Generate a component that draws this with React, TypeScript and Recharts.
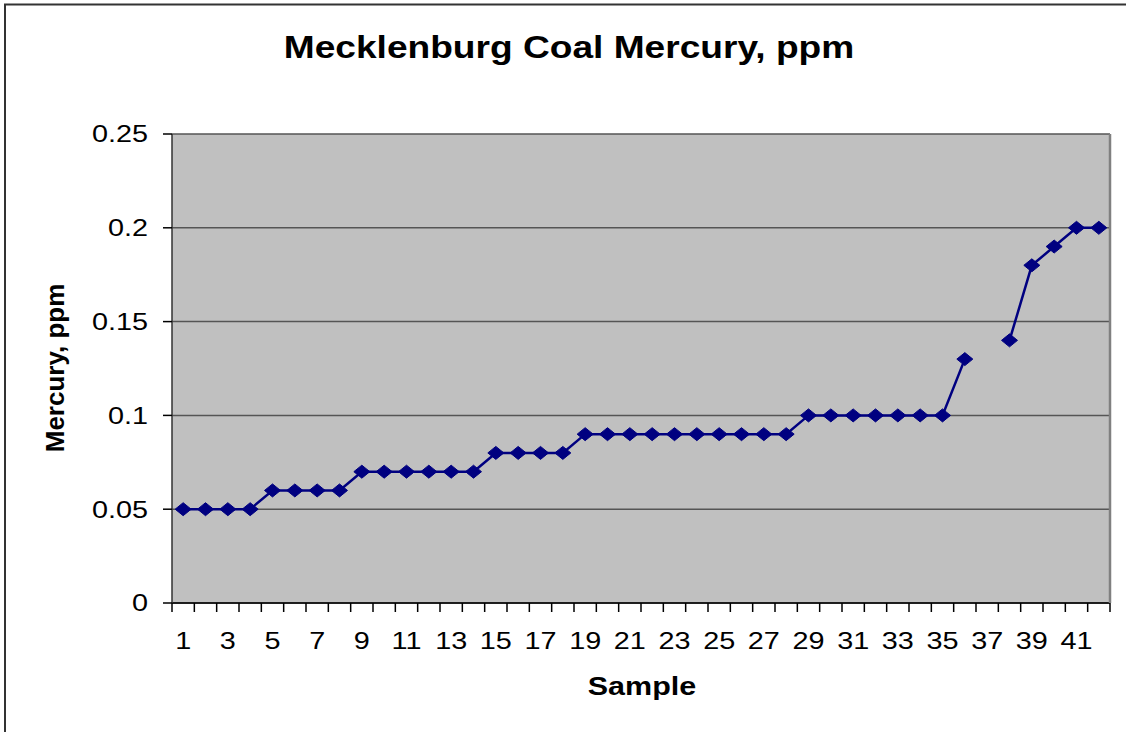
import React from 'react';
import { LineChart, Line, XAxis, YAxis, CartesianGrid } from 'recharts';

// sample numbers (categories)
const samples = [
  1, 2, 3, 4, 5, 6, 7, 8, 9, 10, 11, 12, 13, 14, 15, 16, 17, 18, 19, 20, 21,
  22, 23, 24, 25, 26, 27, 28, 29, 30, 31, 32, 33, 34, 35, 36, 37, 38, 39, 40,
  41, 42,
];

// mercury, ppm (sample 37 has no value)
const mercury: (number | null)[] = [
  0.05, 0.05, 0.05, 0.05, 0.06, 0.06, 0.06, 0.06, 0.07, 0.07, 0.07, 0.07,
  0.07, 0.07, 0.08, 0.08, 0.08, 0.08, 0.09, 0.09, 0.09, 0.09, 0.09, 0.09,
  0.09, 0.09, 0.09, 0.09, 0.1, 0.1, 0.1, 0.1, 0.1, 0.1, 0.1, 0.13, null, 0.14,
  0.18, 0.19, 0.2, 0.2,
];

const yTicks = [0, 0.05, 0.1, 0.15, 0.2, 0.25];

const data = samples.map((s, i) => ({ sample: s, mercury: mercury[i] }));

// tick marks sit between categories, like Excel
const boundaryTicks = [...samples.map((s) => s - 0.5), samples[samples.length - 1] + 0.5];

const FONT = '"Liberation Sans", Arial, sans-serif';
const NAVY = '#000080';

const YTick = ({ x, y, payload }: any) => (
  <g transform={`translate(${x},${y})`}>
    <text
      transform="scale(1.2,1)"
      textAnchor="end"
      dy="0.35em"
      fontSize={24}
      fontFamily={FONT}
      fill="#000"
    >
      {String(payload.value)}
    </text>
  </g>
);

const XTick = ({ x, y, payload }: any) => (
  <g transform={`translate(${x},${y})`}>
    <text
      transform="scale(1.2,1)"
      textAnchor="middle"
      dy="0.71em"
      fontSize={24}
      fontFamily={FONT}
      fill="#000"
    >
      {payload.value}
    </text>
  </g>
);

const NoLabel = () => <g />;

const Diamond = (props: any) => {
  const { cx, cy, index } = props;
  if (cx == null || cy == null || props.value == null) return <g key={`d-${index}`} />;
  return (
    <polygon
      key={`d-${index}`}
      points={`${cx - 8},${cy} ${cx},${cy - 6.5} ${cx + 8},${cy} ${cx},${cy + 6.5}`}
      fill={NAVY}
      stroke={NAVY}
      strokeWidth={1}
    />
  );
};

export default function App() {
  return (
    <div
      style={{
        position: 'absolute',
        left: 0,
        top: 0,
        width: 1126,
        height: 732,
        overflow: 'hidden',
        background: '#fff',
        fontFamily: FONT,
      }}
    >
      <LineChart
        width={1126}
        height={732}
        data={data}
        margin={{ top: 134, right: 0, bottom: 69, left: 0 }}
      >
        <CartesianGrid
          vertical={false}
          fill="#C0C0C0"
          fillOpacity={1}
          stroke="#555"
          strokeWidth={1.5}
        />
        <XAxis
          xAxisId="a_ticks"
          type="number"
          dataKey="sample"
          domain={[0.5, 42.5]}
          allowDataOverflow
          ticks={boundaryTicks}
          interval={0}
          height={1}
          tick={<NoLabel />}
          tickSize={9}
          tickLine={{ stroke: '#000', strokeWidth: 1.5 }}
          axisLine={{ stroke: '#000', strokeWidth: 1.5 }}
        />
        <XAxis
          xAxisId="b_lab"
          dataKey="sample"
          scale="band"
          height={59}
          interval={1}
          tickLine={false}
          tickSize={0}
          tickMargin={28}
          axisLine={false}
          tick={<XTick />}
        />
        <YAxis
          domain={[0, 0.25]}
          ticks={yTicks}
          width={172}
          tickSize={9}
          tickMargin={15}
          tickLine={{ stroke: '#000', strokeWidth: 1.5 }}
          axisLine={{ stroke: '#333', strokeWidth: 1.5 }}
          tick={<YTick />}
        />
        <YAxis
          yAxisId="right"
          orientation="right"
          domain={[0, 0.25]}
          width={16}
          tick={false}
          tickLine={false}
          axisLine={{ stroke: '#808080', strokeWidth: 2.5 }}
        />
        <Line
          xAxisId="b_lab"
          type="linear"
          dataKey="mercury"
          stroke={NAVY}
          strokeWidth={2.5}
          connectNulls={false}
          dot={Diamond}
          activeDot={false}
          isAnimationActive={false}
        />
      </LineChart>
      <svg
        width={1126}
        height={732}
        style={{ position: 'absolute', left: 0, top: 0, pointerEvents: 'none' }}
      >
        <polyline points="5,732 5,4.5 1126,4.5" fill="none" stroke="#333" strokeWidth={2} />
        <g transform="translate(569,58)">
          <text
            transform="scale(1.16,1)"
            textAnchor="middle"
            fontSize={32}
            fontWeight="bold"
            fontFamily={FONT}
            fill="#000"
          >
            Mecklenburg Coal Mercury, ppm
          </text>
        </g>
        <g transform="translate(642,695)">
          <text
            transform="scale(1.22,1)"
            textAnchor="middle"
            fontSize={25}
            fontWeight="bold"
            fontFamily={FONT}
            fill="#000"
          >
            Sample
          </text>
        </g>
        <g transform="translate(64,368) rotate(-90)">
          <text
            textAnchor="middle"
            fontSize={26}
            fontWeight="bold"
            fontFamily={FONT}
            fill="#000"
          >
            Mercury, ppm
          </text>
        </g>
      </svg>
    </div>
  );
}
